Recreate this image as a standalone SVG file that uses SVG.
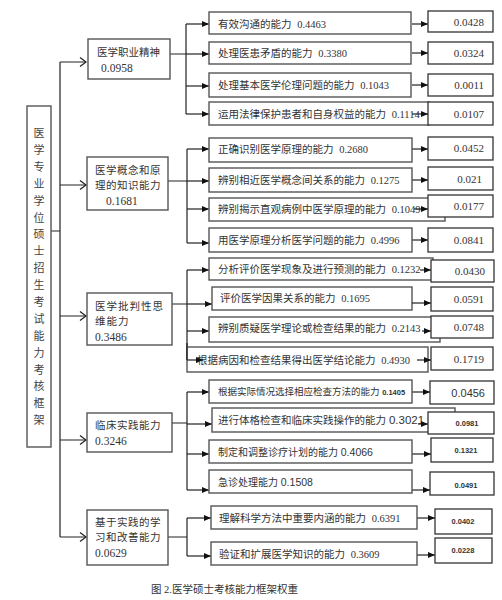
<svg xmlns="http://www.w3.org/2000/svg" width="502" height="600" viewBox="0 0 502 600">
<style>
.bx{fill:#fff;stroke:#555;stroke-width:1.4}
.l3{fill:#fff;stroke:#333;stroke-width:1.3}
.ln{fill:none;stroke:#222;stroke-width:1.2}
.t{font-family:"Liberation Serif","Noto Sans CJK SC",serif;font-size:10.5px;fill:#333}
.s{font-family:"Liberation Sans","Noto Sans CJK SC",sans-serif;fill:#333}
.n{font-family:"Liberation Serif",serif;font-size:11px;fill:#333;text-anchor:end}
.sb{font-family:"Liberation Sans",sans-serif;font-size:7.5px;font-weight:bold;fill:#333;text-anchor:middle}
.r{font-family:"Liberation Serif","Noto Sans CJK SC",serif;font-size:11px;fill:#444;text-anchor:middle}
.l1{font-family:"Liberation Serif","Noto Sans CJK SC",serif;font-size:10.5px;fill:#333}
.l1n{font-family:"Liberation Serif",serif;font-size:11.5px;fill:#333}
</style>
<defs>
<marker id="a" markerUnits="userSpaceOnUse" markerWidth="8" markerHeight="6" refX="7" refY="3" orient="auto"><path d="M0,0 L7,3 L0,6 Z" fill="#111"/></marker>
</defs>

<g id="connectors">
<path class="ln" d="M51,231 H60 M60,62 V537"/>
<path class="ln" d="M60,62 H86 M60,185 H86 M60,316 H86 M60,440 H86 M60,537 H86"/>
<path class="ln" d="M80,57.5 L86,62 L80,66.5 M80,180.5 L86,185 L80,189.5 M80,311.5 L86,316 L80,320.5 M80,435.5 L86,440 L80,444.5 M80,532.5 L86,537 L80,541.5"/>
<path class="ln" d="M170,54 H186 M186,24 V114"/>
<path class="ln" marker-end="url(#a)" d="M186,24 H209"/>
<path class="ln" marker-end="url(#a)" d="M186,54 H209"/>
<path class="ln" marker-end="url(#a)" d="M186,86 H209"/>
<path class="ln" marker-end="url(#a)" d="M186,114 H209"/>
<path class="ln" marker-end="url(#a)" d="M412,24 H428"/>
<path class="ln" marker-end="url(#a)" d="M412,53 H428"/>
<path class="ln" marker-end="url(#a)" d="M412,85 H428"/>
<path class="ln" d="M168,181 H187 M187,149 V243"/>
<path class="ln" marker-end="url(#a)" d="M187,149 H209"/>
<path class="ln" marker-end="url(#a)" d="M187,181 H209"/>
<path class="ln" marker-end="url(#a)" d="M187,209 H209"/>
<path class="ln" marker-end="url(#a)" d="M187,243 H209"/>
<path class="ln" marker-end="url(#a)" d="M412,149 H428"/>
<path class="ln" marker-end="url(#a)" d="M412,180 H428"/>
<path class="ln" marker-end="url(#a)" d="M412,240 H428"/>
<path class="ln" d="M172,304 H187 M187,270 V360"/>
<path class="ln" marker-end="url(#a)" d="M187,270 H209"/>
<path class="ln" marker-end="url(#a)" d="M187,304 H212"/>
<path class="ln" marker-end="url(#a)" d="M187,331 H209"/>
<path class="ln" d="M172,423 H187 M187,392 V490"/>
<path class="ln" marker-end="url(#a)" d="M187,392 H209"/>
<path class="ln" marker-end="url(#a)" d="M187,424 H212"/>
<path class="ln" marker-end="url(#a)" d="M187,454 H209"/>
<path class="ln" marker-end="url(#a)" d="M187,490 H209"/>
<path class="ln" marker-end="url(#a)" d="M412,392 H430"/>
<path class="ln" marker-end="url(#a)" d="M412,454 H431"/>
<path class="ln" marker-end="url(#a)" d="M412,490 H430"/>
<path class="ln" d="M168,537 H187 M187,518 V556"/>
<path class="ln" marker-end="url(#a)" d="M187,518 H211"/>
<path class="ln" marker-end="url(#a)" d="M187,556 H211"/>
<path class="ln" marker-end="url(#a)" d="M417,518 H435"/>
<path class="ln" marker-end="url(#a)" d="M417,555 H435"/>
</g>

<g id="root">
<rect class="bx" x="27" y="106" width="24" height="341"/>
<text class="r"><tspan x="39" y="137">医</tspan><tspan x="39" dy="16.9">学</tspan><tspan x="39" dy="16.9">专</tspan><tspan x="39" dy="16.9">业</tspan><tspan x="39" dy="16.9">学</tspan><tspan x="39" dy="16.9">位</tspan><tspan x="39" dy="16.9">硕</tspan><tspan x="39" dy="16.9">士</tspan><tspan x="39" dy="16.9">招</tspan><tspan x="39" dy="16.9">生</tspan><tspan x="39" dy="16.9">考</tspan><tspan x="39" dy="16.9">试</tspan><tspan x="39" dy="16.9">能</tspan><tspan x="39" dy="16.9">力</tspan><tspan x="39" dy="16.9">考</tspan><tspan x="39" dy="16.9">核</tspan><tspan x="39" dy="16.9">框</tspan><tspan x="39" dy="16.9">架</tspan></text>
</g>

<g id="n1">
<rect class="bx" x="88" y="39" width="82" height="40"/>
<text class="l1" x="97" y="56">医学职业精神</text>
<text class="l1n" x="101" y="72">0.0958</text>
</g>
<g id="n2">
<rect class="bx" x="87" y="157" width="81" height="53"/>
<text class="l1" x="95" y="174" letter-spacing="0.5">医学概念和原</text>
<text class="l1" x="95" y="189" letter-spacing="0.5">理的知识能力</text>
<text class="l1n" x="106" y="205">0.1681</text>
</g>
<g id="n3">
<rect class="bx" x="87" y="293" width="85" height="52"/>
<text class="l1" x="95" y="310" letter-spacing="1">医学批判性思</text>
<text class="l1" x="95" y="325" letter-spacing="1">维能力</text>
<text class="l1n" x="95" y="341">0.3486</text>
</g>
<g id="n4">
<rect class="bx" x="87" y="413" width="85" height="39"/>
<text class="l1" x="95" y="429" letter-spacing="0.5">临床实践能力</text>
<text class="l1n" x="95" y="445">0.3246</text>
</g>
<g id="n5">
<rect class="bx" x="87" y="510" width="81" height="55"/>
<text class="l1" x="95" y="526" letter-spacing="0.5">基于实践的学</text>
<text class="l1" x="95" y="541" letter-spacing="0.5">习和改善能力</text>
<text class="l1n" x="95" y="557">0.0629</text>
</g>

<g id="n1a"><rect class="bx" x="209" y="12" width="202" height="22"/><text class="t" x="218" y="27.5">有效沟通的能力 <tspan dx="3">0.4463</tspan></text></g>
<g id="n1a3"><rect class="l3" x="428" y="11" width="65" height="21"/><text class="n" x="484" y="26">0.0428</text></g>
<g id="n1b"><rect class="bx" x="209" y="42" width="202" height="22"/><text class="t" x="218" y="57">处理医患矛盾的能力 <tspan dx="3">0.3380</tspan></text></g>
<g id="n1b3"><rect class="l3" x="428" y="42" width="65" height="22"/><text class="n" x="484" y="57">0.0324</text></g>
<g id="n1c"><rect class="bx" x="209" y="73" width="202" height="24"/><text class="t" x="218" y="89">处理基本医学伦理问题的能力 <tspan dx="3">0.1043</tspan></text></g>
<g id="n1c3"><rect class="l3" x="428" y="74" width="65" height="22"/><text class="n" x="484" y="89">0.0011</text></g>
<g id="n1d"><rect class="bx" x="209" y="102" width="220" height="23"/><text class="t" x="218" y="118">运用法律保护患者和自身权益的能力 <tspan dx="3">0.1114</tspan></text></g>
<g id="n1d3"><rect class="l3" x="428" y="102" width="65" height="23"/><text class="n" x="484" y="118">0.0107</text></g>
<path class="ln" marker-end="url(#a)" d="M412,114 H428"/>

<g id="n2a"><rect class="bx" x="209" y="138" width="203" height="24"/><text class="t" x="218" y="153">正确识别医学原理的能力 <tspan dx="3">0.2680</tspan></text></g>
<g id="n2a3"><rect class="l3" x="428" y="137" width="65" height="23"/><text class="n" x="484" y="152">0.0452</text></g>
<g id="n2b"><rect class="bx" x="209" y="168" width="203" height="24"/><text class="t" x="218" y="184">辨别相近医学概念间关系的能力 <tspan dx="3">0.1275</tspan></text></g>
<g id="n2b3"><rect class="l3" x="428" y="167" width="65" height="23"/><text class="n" x="482" y="183">0.021</text></g>
<g id="n2c"><rect class="bx" x="209" y="198" width="236" height="23"/><text class="t" x="218" y="213">辨别揭示直观病例中医学原理的能力 <tspan dx="3">0.1049</tspan></text></g>
<path class="ln" marker-end="url(#a)" d="M414,209 H428"/>
<g id="n2c3"><rect class="l3" x="428" y="195" width="65" height="22"/><text class="n" x="484" y="210">0.0177</text></g>
<g id="n2d"><rect class="bx" x="209" y="228" width="203" height="24"/><text class="t" x="218" y="244">用医学原理分析医学问题的能力 <tspan dx="3">0.4996</tspan></text></g>
<g id="n2d3"><rect class="l3" x="428" y="228" width="65" height="24"/><text class="n" x="484" y="244">0.0841</text></g>

<g id="n3a"><rect class="bx" x="209" y="258" width="224" height="22"/><text class="t" x="218" y="273">分析评价医学现象及进行预测的能力 <tspan dx="3">0.1232</tspan></text></g>
<path class="ln" marker-end="url(#a)" d="M420,270 H431"/>
<g id="n3a3"><rect class="l3" x="431" y="260" width="63" height="22"/><text class="n" x="485" y="275">0.0430</text></g>
<g id="n3b"><rect class="bx" x="212" y="287" width="200" height="23"/><text class="t" x="220" y="302">评价医学因果关系的能力 <tspan dx="3">0.1695</tspan></text></g>
<path class="ln" marker-end="url(#a)" d="M412,303 H431"/>
<g id="n3b3"><rect class="l3" x="431" y="287" width="62" height="24"/><text class="n" x="484" y="303">0.0591</text></g>
<g id="n3c"><rect class="bx" x="209" y="317" width="231" height="25"/><text class="t" x="218" y="332">辨别质疑医学理论或检查结果的能力 <tspan dx="3">0.2143</tspan></text></g>
<path class="ln" marker-end="url(#a)" d="M422,331 H431"/>
<g id="n3c3"><rect class="l3" x="431" y="316" width="62" height="22"/><text class="n" x="484" y="331">0.0748</text></g>
<g id="n3d"><rect class="bx" x="187" y="347" width="241" height="25"/><text class="t" x="197" y="364">根据病因和检查结果得出医学结论能力 <tspan dx="3">0.4930</tspan></text></g>
<path class="ln" d="M187,343 V360"/>
<path class="ln" marker-end="url(#a)" d="M187,360 H203"/>
<path class="ln" marker-end="url(#a)" d="M417,360 H431"/>
<g id="n3d3"><rect class="l3" x="431" y="347" width="62" height="23"/><text class="n" x="484" y="363">0.1719</text></g>

<g id="n4a"><rect class="bx" x="209" y="380" width="203" height="23"/><text class="s" x="218" y="395" font-size="9.5">根据实际情况选择相应检查方法的能力 <tspan font-size="7.5" font-weight="bold">0.1405</tspan></text></g>
<g id="n4a3"><rect class="l3" x="430" y="381" width="64" height="23"/><text class="s" x="485" y="397" font-size="11" text-anchor="end">0.0456</text></g>
<g id="n4b"><rect class="bx" x="212" y="408" width="243" height="24"/><text class="s" x="218" y="424" font-size="10.5">进行体格检查和临床实践操作的能力 <tspan font-size="11.5">0.3021</tspan></text></g>
<path class="ln" marker-end="url(#a)" d="M418,424 H428"/>
<g id="n4b3"><rect class="l3" x="428" y="412" width="66" height="22"/><text class="sb" x="467" y="426">0.0981</text></g>
<g id="n4c"><rect class="bx" x="209" y="440" width="203" height="23"/><text class="s" x="218" y="456" font-size="10">制定和调整诊疗计划的能力 <tspan font-size="10.5">0.4066</tspan></text></g>
<g id="n4c3"><rect class="l3" x="431" y="438" width="62" height="24"/><text class="sb" x="466" y="453">0.1321</text></g>
<g id="n4d"><rect class="bx" x="209" y="470" width="203" height="23"/><text class="s" x="218" y="486" font-size="10">急诊处理能力 <tspan font-size="10.5">0.1508</tspan></text></g>
<g id="n4d3"><rect class="l3" x="430" y="472" width="64" height="23"/><text class="sb" x="466" y="488">0.0491</text></g>

<g id="n5a"><rect class="bx" x="211" y="506" width="206" height="23"/><text class="t" x="219" y="522">理解科学方法中重要内涵的能力 <tspan dx="3">0.6391</tspan></text></g>
<g id="n5a3"><rect class="l3" x="435" y="509" width="57" height="25"/><text class="sb" x="463" y="524">0.0402</text></g>
<g id="n5b"><rect class="bx" x="211" y="542" width="206" height="23"/><text class="t" x="219" y="558">验证和扩展医学知识的能力 <tspan dx="3">0.3609</tspan></text></g>
<g id="n5b3"><rect class="l3" x="435" y="538" width="57" height="25"/><text class="sb" x="463" y="553">0.0228</text></g>

<text class="t" x="151" y="593">图 2.医学硕士考核能力框架权重</text>
</svg>
